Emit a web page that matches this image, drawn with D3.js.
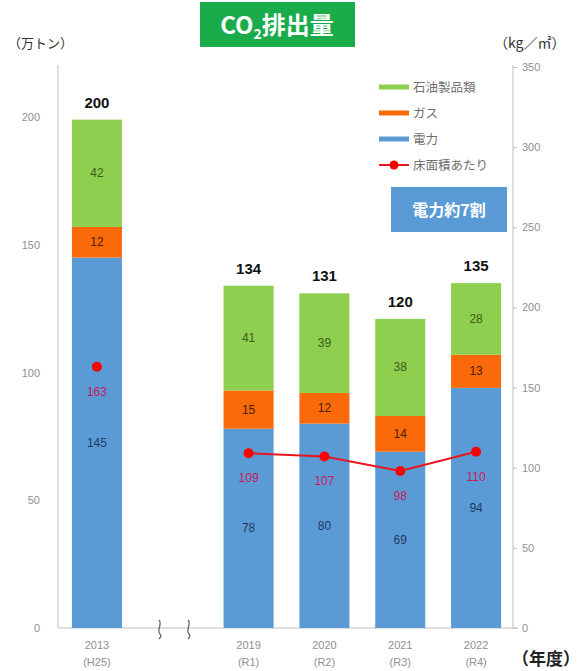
<!DOCTYPE html>
<html><head><meta charset="utf-8">
<script src="https://cdn.jsdelivr.net/npm/d3@7"></script>
<style>body{margin:0;background:#fff}svg{display:block}</style>
</head><body>
<svg id="c" width="584" height="671"></svg>
<script>
const categories = ["2013", "gap", "2019", "2020", "2021", "2022"];
const subLabels = ["(H25)", "", "(R1)", "(R2)", "(R3)", "(R4)"];
const yearsData = ["2013", "2019", "2020", "2021", "2022"];
const electricity = [145, 78, 80, 69, 94];
const gas = [12, 15, 12, 14, 13];
const oil = [42, 41, 39, 38, 28];
const totals = [200, 134, 131, 120, 135];
const perArea = [163, 109, 107, 98, 110];
const leftTicks = [0, 50, 100, 150, 200];
const rightTicks = [0, 50, 100, 150, 200, 250, 300, 350];
const seriesNames = ["石油製品類", "ガス", "電力", "床面積あたり"];

const svg = d3.select("#c");
const FONT = "'Liberation Sans', Arial, sans-serif";
const JP = "'Noto Sans CJK JP', sans-serif";
const colors = {oil: "#8fcf4f", gas: "#fa6a0a", ele: "#5b9bd5", line: "#e8161e", dot: "#ff0000", lab: "#c8185a"};

const x = d3.scaleBand().domain(categories).range([59, 514]).paddingInner(0.34).paddingOuter(0.17);
const yL = d3.scaleLinear().domain([0, 219.6]).range([628, 67]);
const yR = d3.scaleLinear().domain([0, 350]).range([628, 67]);

// axes
const axisColor = "#c0c0c0";
const tickColor = "#909090";
const gL = svg.append("g").attr("transform", "translate(58,0)")
  .call(d3.axisLeft(yL).tickValues(leftTicks).tickSize(0).tickPadding(18));
gL.select(".domain").attr("stroke", axisColor).attr("d", `M0,${yL(0)}V65`);
gL.selectAll("text").attr("font-family", FONT).attr("font-size", 11).attr("fill", tickColor);

const gR = svg.append("g").attr("transform", "translate(513,0)")
  .call(d3.axisRight(yR).tickValues(rightTicks).tickSize(4).tickPadding(5));
gR.select(".domain").attr("stroke", axisColor).attr("d", `M0,${yR(0)}V65`);
gR.selectAll("line").attr("stroke", axisColor);
gR.selectAll("text").attr("font-family", FONT).attr("font-size", 11).attr("fill", tickColor);

// bottom axis
const gB = svg.append("g").attr("transform", "translate(0,628)")
  .call(d3.axisBottom(x).tickSize(0).tickFormat(() => ""));
gB.select(".domain").attr("stroke", axisColor).attr("d", "M58,0H518");
gB.selectAll(".tick").each(function(d, i) {
  const t = d3.select(this);
  if (d === "gap") return;
  t.append("text").attr("y", 21).attr("fill", tickColor).attr("font-family", FONT)
    .attr("font-size", 11).attr("text-anchor", "middle").text(d);
  t.append("text").attr("y", 38).attr("fill", tickColor).attr("font-family", FONT)
    .attr("font-size", 11).attr("text-anchor", "middle").text(subLabels[i]);
});

// break marks
[160, 189].forEach(bx => {
  svg.append("path").attr("d", `M${bx-1},${620} C${bx+3},${624} ${bx-4},${630} ${bx},${634} C${bx+2},${636} ${bx},${638} ${bx-1},${639}`)
    .attr("fill", "none").attr("stroke", "#666").attr("stroke-width", 1.3);
});

// stacked bars
const rows = yearsData.map((c, i) => ({cat: c, ele: electricity[i], gas: gas[i], oil: oil[i]}));
const stack = d3.stack().keys(["ele", "gas", "oil"])(rows);
const labColors = {ele: "#1f3a5f", gas: "#4a2000", oil: "#3d5a1c"};
stack.forEach(layer => {
  const k = layer.key;
  svg.append("g").selectAll("rect").data(layer).join("rect")
    .attr("x", d => x(d.data.cat)).attr("width", x.bandwidth())
    .attr("y", d => yL(d[1])).attr("height", d => yL(d[0]) - yL(d[1]))
    .attr("fill", colors[k]);
  svg.append("g").selectAll("text").data(layer).join("text")
    .attr("x", d => x(d.data.cat) + x.bandwidth() / 2)
    .attr("y", d => (yL(d[0]) + yL(d[1])) / 2 + 4)
    .attr("text-anchor", "middle").attr("font-family", FONT).attr("font-size", 12)
    .attr("fill", labColors[k]).text(d => d.data[k]);
});

// totals
svg.append("g").selectAll("text").data(yearsData).join("text")
  .attr("x", c => x(c) + x.bandwidth() / 2)
  .attr("y", (c, i) => yL(d3.sum([electricity[i], gas[i], oil[i]])) - 12)
  .attr("text-anchor", "middle").attr("font-family", FONT).attr("font-size", 15)
  .attr("font-weight", "bold").attr("fill", "#111").text((c, i) => totals[i]);

// line (2019-2022 only)
const lineData = yearsData.map((c, i) => ({c, v: perArea[i]}));
const line = d3.line().x(d => x(d.c) + x.bandwidth() / 2).y(d => yR(d.v));
svg.append("path").datum(lineData.slice(1)).attr("d", line)
  .attr("fill", "none").attr("stroke", colors.line).attr("stroke-width", 2);
svg.append("g").selectAll("circle").data(lineData).join("circle")
  .attr("cx", d => x(d.c) + x.bandwidth() / 2).attr("cy", d => yR(d.v)).attr("r", 5)
  .attr("fill", colors.dot);
svg.append("g").selectAll("text").data(lineData).join("text")
  .attr("x", d => x(d.c) + x.bandwidth() / 2).attr("y", d => yR(d.v) + 29)
  .attr("text-anchor", "middle").attr("font-family", FONT).attr("font-size", 12)
  .attr("fill", colors.lab).text(d => d.v);

// legend
const leg = svg.append("g");
const legColors = [colors.oil, colors.gas, colors.ele, colors.line];
seriesNames.forEach((n, i) => {
  const ly = 87 + i * 26;
  leg.append("line").attr("x1", 379).attr("x2", 409).attr("y1", ly).attr("y2", ly)
    .attr("stroke", legColors[i]).attr("stroke-width", i === 3 ? 2 : 5);
  if (i === 3) leg.append("circle").attr("cx", 394).attr("cy", ly).attr("r", 4.5).attr("fill", colors.dot);
  leg.append("text").attr("x", 413).attr("y", ly + 5).attr("font-family", JP).attr("font-size", 12.5)
    .attr("fill", "#707070").text(n);
});

// note box
svg.append("rect").attr("x", 391).attr("y", 187).attr("width", 116).attr("height", 45).attr("fill", "#5b9bd5");
svg.append("text").attr("x", 449).attr("y", 216).attr("text-anchor", "middle").attr("font-family", JP)
  .attr("font-size", 16).attr("font-weight", "bold").attr("fill", "#fff").text("電力約7割");

// title
svg.append("rect").attr("x", 200).attr("y", 2).attr("width", 155).attr("height", 45).attr("fill", "#1aab4b");
const tt = svg.append("text").attr("x", 277).attr("y", 34).attr("text-anchor", "middle")
  .attr("font-family", JP).attr("font-size", 24).attr("font-weight", "bold").attr("fill", "#fff");
tt.append("tspan").text("CO");
tt.append("tspan").attr("font-size", 14).attr("dy", 5).text("2");
tt.append("tspan").attr("dy", -5).text("排出量");

// unit labels
svg.append("text").attr("x", 8).attr("y", 48).attr("font-family", JP).attr("font-size", 13)
  .attr("fill", "#333").text("（万トン）");
svg.append("text").attr("x", 494).attr("y", 48).attr("font-family", JP).attr("font-size", 14)
  .attr("fill", "#333").text("（kg／㎡）");
svg.append("text").attr("x", 512).attr("y", 665).attr("font-family", JP).attr("font-size", 17)
  .attr("font-weight", "bold").attr("fill", "#222").text("（年度）");
</script>
</body></html>
